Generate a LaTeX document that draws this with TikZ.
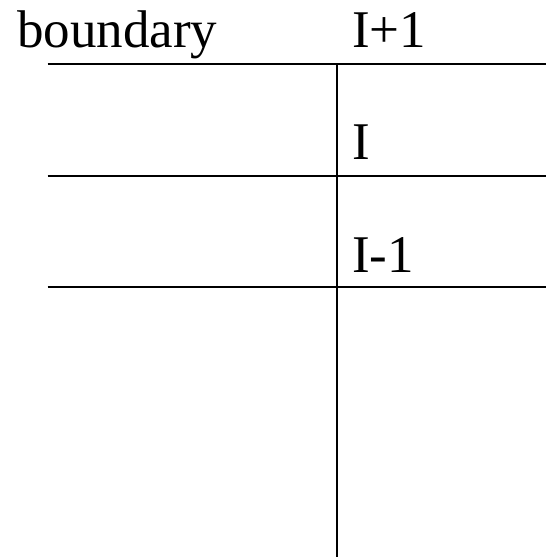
\documentclass[tikz,border=0pt]{standalone}
\usepackage{fontspec}
\setmainfont{Liberation Serif}
\begin{document}
\begin{tikzpicture}[x=1pt,y=-1pt,
  lbl/.style={anchor=base west,inner sep=0pt,font=\fontsize{53}{57}\selectfont},
  rule/.style={line width=2pt,black}]
\useasboundingbox (0,0) rectangle (546,558);
\node[lbl] (bnd) at (17,47) {boundary};
\node[lbl] (ip1) at (352,47) {I+1};
\node[lbl] (i) at (352,159) {I};
\node[lbl] (im1) at (352,272) {I-1};
\coordinate (t0) at (47.5,63.5);
\coordinate (t1) at (546,63.5);
\coordinate (m0) at (47.5,175.5);
\coordinate (m1) at (546,175.5);
\coordinate (b0) at (47.5,287);
\coordinate (b1) at (546,287);
\coordinate (v0) at (336.5,63.5);
\coordinate (v1) at (336.5,557);
\draw[rule] (t0) -- (t1);
\draw[rule] (m0) -- (m1);
\draw[rule] (b0) -- (b1);
\draw[rule] (v0) -- (v1);
\end{tikzpicture}
\end{document}
